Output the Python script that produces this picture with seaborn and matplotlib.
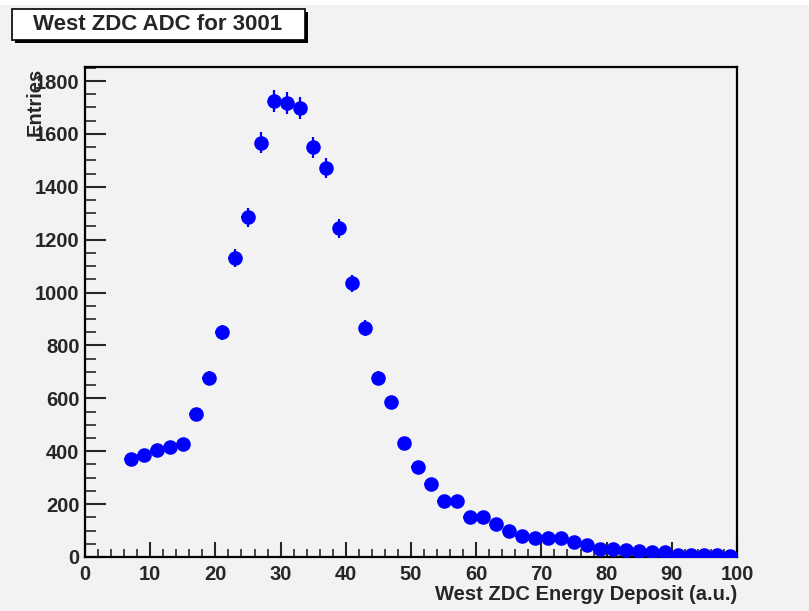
import numpy as np
import pandas as pd
import matplotlib
matplotlib.use("Agg")
import matplotlib.pyplot as plt
import seaborn as sns
from matplotlib.patches import FancyBboxPatch, Rectangle
from matplotlib.ticker import MultipleLocator

# ---- data ----
bin_centers = [7, 9, 11, 13, 15, 17, 19, 21, 23, 25, 27, 29, 31, 33, 35, 37, 39,
               41, 43, 45, 47, 49, 51, 53, 55, 57, 59, 61, 63, 65, 67, 69, 71, 73,
               75, 77, 79, 81, 83, 85, 87, 89, 91, 93, 95, 97, 99]
entries = [371, 386, 405, 417, 428, 542, 678, 849, 1131, 1285, 1567, 1724, 1717,
           1698, 1550, 1470, 1243, 1035, 866, 678, 585, 432, 341, 277, 212, 212,
           152, 152, 125, 99, 80, 72, 72, 70, 57, 45, 30, 29, 28, 23, 19, 19,
           8, 8, 8, 9, 5]
title_text = "West ZDC ADC for 3001"
x_label = "West ZDC Energy Deposit (a.u.)"
y_label = "Entries"

df = pd.DataFrame({"x": bin_centers, "y": entries})
yerr = np.sqrt(df["y"].values)

sns.set_theme(style="white")
plt.rcParams["font.family"] = ["Liberation Sans", "DejaVu Sans"]
plt.rcParams["font.weight"] = "bold"

BG = "#f2f2f2"
fig = plt.figure(figsize=(8.09, 6.11), dpi=100, facecolor=BG)
ax = fig.add_axes([85/809, 1-557/611, (737-85)/809, (557-67)/611])
ax.set_facecolor(BG)

# top white strip like the canvas window
fig.patches.append(Rectangle((0, 1-5/611), 1, 5/611, transform=fig.transFigure,
                             facecolor="white", edgecolor="none", zorder=0))

ax.errorbar(df["x"], df["y"], yerr=yerr, xerr=1, fmt="none", ecolor="#0000ff",
            elinewidth=1.6, capsize=0, zorder=2)
sns.scatterplot(data=df, x="x", y="y", ax=ax, color="#0000ff", s=110,
                marker="o", edgecolor="#0000ff", linewidth=0, zorder=3)

ax.set_xlim(0, 100)
ax.set_ylim(0, 1853)
ax.xaxis.set_major_locator(MultipleLocator(10))
ax.xaxis.set_minor_locator(MultipleLocator(2))
ax.yaxis.set_major_locator(MultipleLocator(200))
ax.yaxis.set_minor_locator(MultipleLocator(50))

ax.tick_params(axis="x", which="major", direction="in", length=11, width=1.5,
               labelsize=14.5, pad=6, bottom=True, top=False)
ax.tick_params(axis="x", which="minor", direction="in", length=6, width=1.2,
               bottom=True, top=False)
ax.tick_params(axis="y", which="major", direction="in", length=15, width=1.5,
               labelsize=14.5, pad=4, left=True, right=False)
ax.tick_params(axis="y", which="minor", direction="in", length=8, width=1.2,
               left=True, right=False)
for lab in ax.get_xticklabels() + ax.get_yticklabels():
    lab.set_fontweight("bold")

for side in ["left", "bottom", "top", "right"]:
    ax.spines[side].set_visible(True)
    ax.spines[side].set_color("black")
    ax.spines[side].set_linewidth(1.6)

ax.set_xlabel("")
ax.set_ylabel("")
fig.text(737/809, 1-594/611, x_label, ha="right", va="center",
         fontsize=14.5, fontweight="bold")
fig.text(35/809, 1-68/611, y_label, ha="center", va="top", rotation=90,
         fontsize=14.5, fontweight="bold")

# title box with shadow
fig.patches.append(Rectangle((15/809, 1-43/611), 293/809, 31/611,
                             transform=fig.transFigure, facecolor="black",
                             edgecolor="none", zorder=1))
fig.patches.append(Rectangle((12/809, 1-40/611), 293/809, 31/611,
                             transform=fig.transFigure, facecolor="white",
                             edgecolor="black", linewidth=1.2, zorder=2))
fig.text(158/809, 1-25/611, title_text, ha="center", va="center",
         fontsize=16, fontweight="bold", zorder=3)

fig.savefig("out.png", dpi=100, facecolor=BG)
